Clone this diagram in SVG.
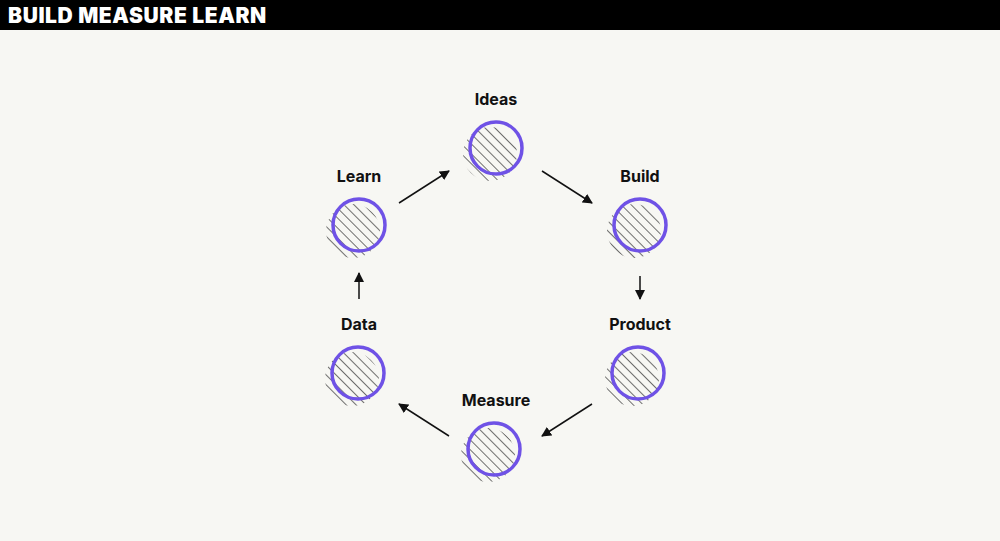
<svg xmlns="http://www.w3.org/2000/svg" width="1000" height="541" viewBox="0 0 1000 541">
<style>
.lbl{font-family:"Inter","Liberation Sans",sans-serif;font-weight:700;font-size:16px;fill:#111;text-anchor:middle}
.ring{fill:none;stroke:#6f52e6;stroke-width:3.5}
.hatch{fill:url(#hp)}
.con{stroke:#111;stroke-width:1.5;fill:none;marker-end:url(#ah)}
</style>
<defs>
<pattern id="hp" width="7" height="7" patternUnits="userSpaceOnUse" patternTransform="rotate(-45)">
<line x1="0" y1="0" x2="0" y2="7" stroke="#333" stroke-width="1.4"/>
</pattern>
<marker id="ah" viewBox="0 0 10 10" refX="9" refY="5" markerWidth="10" markerHeight="10" orient="auto" markerUnits="userSpaceOnUse">
<path d="M0,0 L10,5 L0,10 z" fill="#111"/>
</marker>
</defs>
<rect width="1000" height="541" fill="#f7f7f3"/>
<rect width="1000" height="30" fill="#000"/>
<text x="8" y="23" font-family="Inter,'Liberation Sans',sans-serif" font-weight="900" font-size="21" letter-spacing="0.6" fill="#fff">BUILD MEASURE LEARN</text>
<g id="ideas"><circle class="hatch" cx="490" cy="154" r="27"/><circle class="ring" cx="496" cy="148" r="26"/><text class="lbl" x="496" y="105">Ideas</text></g>
<g id="build"><circle class="hatch" cx="634" cy="231" r="27"/><circle class="ring" cx="640" cy="225" r="26"/><text class="lbl" x="640" y="182">Build</text></g>
<g id="product"><circle class="hatch" cx="632" cy="379" r="27"/><circle class="ring" cx="638" cy="373" r="26"/><text class="lbl" x="640" y="330">Product</text></g>
<g id="measure"><circle class="hatch" cx="488" cy="455" r="27"/><circle class="ring" cx="494" cy="449" r="26"/><text class="lbl" x="496" y="406">Measure</text></g>
<g id="data"><circle class="hatch" cx="352" cy="379" r="27"/><circle class="ring" cx="358" cy="373" r="26"/><text class="lbl" x="359" y="330">Data</text></g>
<g id="learn"><circle class="hatch" cx="353" cy="231" r="27"/><circle class="ring" cx="359" cy="225" r="26"/><text class="lbl" x="359" y="182">Learn</text></g>
<g id="connectors">
<line class="con" x1="542" y1="171" x2="592" y2="203"/>
<line class="con" x1="640" y1="276" x2="640" y2="299"/>
<line class="con" x1="592" y1="404" x2="542" y2="436"/>
<line class="con" x1="449" y1="436" x2="399" y2="404"/>
<line class="con" x1="359" y1="299" x2="359" y2="273"/>
<line class="con" x1="399" y1="203" x2="449" y2="171"/>
</g>
</svg>
